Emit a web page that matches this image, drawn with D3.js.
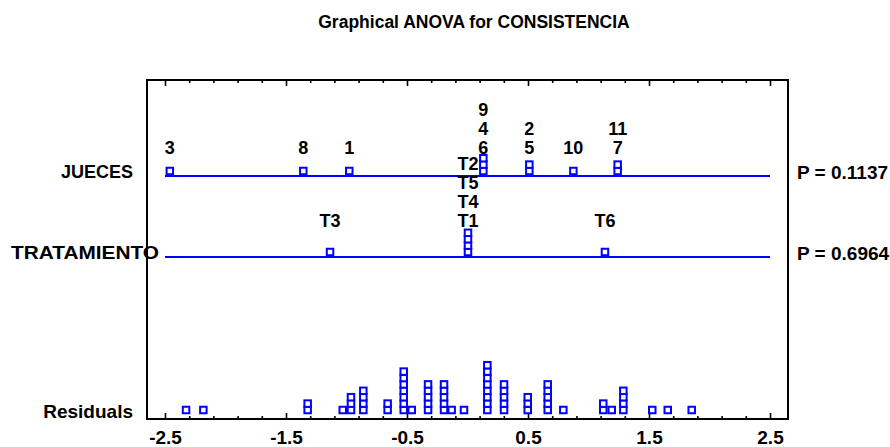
<!DOCTYPE html>
<html>
<head>
<meta charset="utf-8">
<script src="https://cdn.jsdelivr.net/npm/d3@7"></script>
<style>
  html, body { margin: 0; padding: 0; background: #fff; }
  svg { display: block; }
  text { font-family: "Liberation Sans", Arial, sans-serif; font-weight: bold; fill: #000; }
</style>
</head>
<body>
<svg id="chart" width="890" height="447"></svg>
<script>
// Graphical ANOVA: scaled factor effects and residuals for CONSISTENCIA
const chartTitle = "Graphical ANOVA for CONSISTENCIA";

const factorNames = ["JUECES", "TRATAMIENTO"];
const factorPValues = ["P = 0.1137", "P = 0.6964"];

// Scaled effects per judge (equal values stack in listed order, bottom first)
const juecesLabels  = ["3", "8", "1", "6", "4", "9", "5", "2", "10", "7", "11"];
const juecesEffects = [-2.46, -1.357, -0.977, 0.131, 0.131, 0.131, 0.511, 0.511, 0.875, 1.241, 1.241];

// Scaled effects per treatment
const tratLabels  = ["T3", "T1", "T4", "T5", "T2", "T6"];
const tratEffects = [-1.136, 0.004, 0.004, 0.004, 0.004, 1.136];

// Residuals (dot plot, equal values stack)
const residualLabel = "Residuals";
const residuals = [
  -2.326,
  -2.183,
  -1.321, -1.321,
  -1.031,
  -0.963, -0.963, -0.963,
  -0.861, -0.861, -0.861, -0.861,
  -0.660, -0.660,
  -0.527, -0.527, -0.527, -0.527, -0.527, -0.527, -0.527,
  -0.461,
  -0.326, -0.326, -0.326, -0.326, -0.326,
  -0.194, -0.194, -0.194, -0.194, -0.194,
  -0.131,
  -0.029,
  0.164, 0.164, 0.164, 0.164, 0.164, 0.164, 0.164, 0.164,
  0.302, 0.302, 0.302, 0.302, 0.302,
  0.498, 0.498, 0.498,
  0.663, 0.663, 0.663, 0.663, 0.663,
  0.792,
  1.122, 1.122,
  1.192,
  1.288, 1.288, 1.288, 1.288,
  1.527,
  1.655,
  1.853
];

const majorTicks = [-2.5, -1.5, -0.5, 0.5, 1.5, 2.5];
const tickLabels = ["-2.5", "-1.5", "-0.5", "0.5", "1.5", "2.5"];
const minorTicks = d3.range(-2.3, 2.5, 0.2).map(v => +v.toFixed(1)).filter(v => !majorTicks.includes(v));

// ---- layout ----
const svg = d3.select("#chart");
const frame = { left: 147, right: 788, top: 80, bottom: 419 };
const x = d3.scaleLinear().domain([-2.5, 2.5]).range([165, 770]);

const BLUE = "#0000ff";
const box = 6.5;      // marker side (plus stroke)
const step = 6.4;     // vertical stacking step

// stack offsets: points with equal value stack upward
function stackIndex(values) {
  const seen = new Map();
  return values.map(v => {
    const k = v.toFixed(4);
    const i = seen.get(k) || 0;
    seen.set(k, i + 1);
    return i;
  });
}

// frame
svg.append("rect")
  .attr("x", frame.left).attr("y", frame.top)
  .attr("width", frame.right - frame.left).attr("height", frame.bottom - frame.top)
  .attr("fill", "none").attr("stroke", "#000").attr("stroke-width", 2);

// axes (bottom and top, ticks pointing inward)
function drawAxis(gen, y, size, values, fmt) {
  const g = svg.append("g").attr("transform", `translate(0,${y})`)
    .call(gen(x).tickValues(values).tickSize(size).tickFormat(fmt));
  g.select(".domain").remove();
  g.selectAll(".tick line").attr("stroke", "#000").attr("stroke-width", 1.6);
  return g;
}
const bottomMajor = drawAxis(d3.axisBottom, frame.bottom, -6, majorTicks, (d, i) => tickLabels[i]);
drawAxis(d3.axisBottom, frame.bottom, -3, minorTicks, () => "");
drawAxis(d3.axisTop, frame.top, -6, majorTicks, () => "");
drawAxis(d3.axisTop, frame.top, -3, minorTicks, () => "");
bottomMajor.selectAll(".tick text")
  .attr("y", 18).attr("dy", "0.35em")
  .style("font-size", "19px").style("font-family", "'Liberation Sans', Arial, sans-serif")
  .style("font-weight", "bold").attr("fill", "#000");

// title
svg.append("text").attr("x", 474).attr("y", 22).attr("dy", "0.35em")
  .attr("text-anchor", "middle").style("font-size", "17.5px").text(chartTitle);

// factor rows
const rows = [
  { name: factorNames[0], p: factorPValues[0], labels: juecesLabels, values: juecesEffects,
    lineY: 176, nameEnd: 133, nameW: null, labelY: 148 },
  { name: factorNames[1], p: factorPValues[1], labels: tratLabels, values: tratEffects,
    lineY: 257, nameEnd: 159, nameW: 148, labelY: 221 }
];
const labelStep = 19;

rows.forEach(r => {
  const g = svg.append("g");
  g.append("line")
    .attr("x1", x(-2.5)).attr("x2", x(2.5))
    .attr("y1", r.lineY).attr("y2", r.lineY)
    .attr("stroke", BLUE).attr("stroke-width", 2);

  const nameText = g.append("text")
    .attr("y", r.lineY - 4).attr("dy", "0.35em")
    .style("font-size", "18px").text(r.name);
  if (r.nameW) {
    nameText.attr("x", r.nameEnd - r.nameW).attr("text-anchor", "start")
      .attr("textLength", r.nameW).attr("lengthAdjust", "spacingAndGlyphs");
  } else {
    nameText.attr("x", r.nameEnd).attr("text-anchor", "end");
  }
  g.append("text").attr("x", 797).attr("y", r.lineY - 4).attr("dy", "0.35em")
    .attr("text-anchor", "start").style("font-size", "19px").text(r.p);

  const idx = stackIndex(r.values);
  g.selectAll("rect.pt").data(r.values).join("rect").attr("class", "pt")
    .attr("x", d => x(d) - box / 2)
    .attr("y", (d, i) => r.lineY - 5 - idx[i] * step - box / 2)
    .attr("width", box).attr("height", box)
    .attr("fill", "#fff").attr("stroke", BLUE).attr("stroke-width", 2);

  g.selectAll("text.lab").data(r.values).join("text").attr("class", "lab")
    .attr("x", d => x(d))
    .attr("y", (d, i) => r.labelY - idx[i] * labelStep)
    .attr("dy", "0.35em").attr("text-anchor", "middle")
    .style("font-size", "18px")
    .text((d, i) => r.labels[i]);
});

// residuals dot plot
const resBase = 410;
const resIdx = stackIndex(residuals);
svg.append("text").attr("x", 133).attr("y", 411).attr("dy", "0.35em")
  .attr("text-anchor", "end").style("font-size", "19px").text(residualLabel);
svg.append("g").selectAll("rect").data(residuals).join("rect")
  .attr("x", d => x(d) - box / 2)
  .attr("y", (d, i) => resBase - resIdx[i] * step - box / 2)
  .attr("width", box).attr("height", box)
  .attr("fill", "#fff").attr("stroke", BLUE).attr("stroke-width", 2);
</script>
</body>
</html>
